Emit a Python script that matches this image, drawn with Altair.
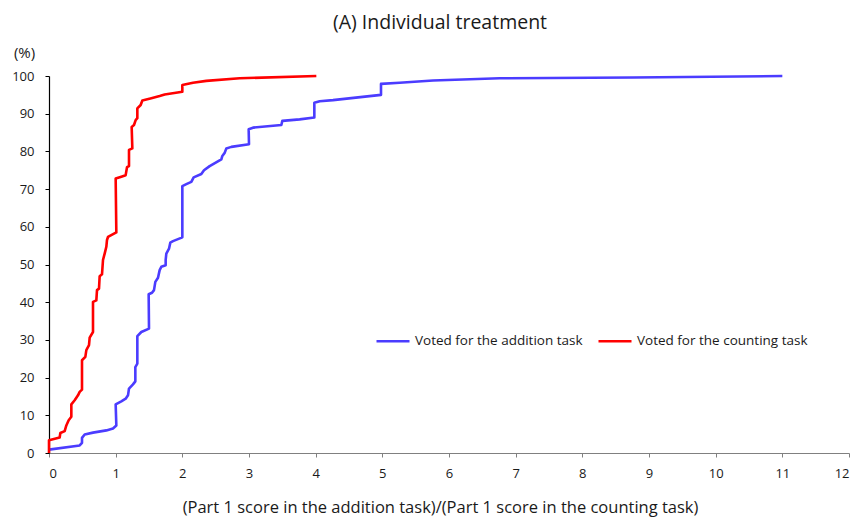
import altair as alt
import pandas as pd

# Cumulative distribution (%) of the score ratio
add_x = [0.0, 0.46, 0.495, 0.495, 0.535, 0.66, 0.86, 0.96, 1.01, 1.0, 1.085, 1.15, 1.185, 1.2, 1.26,
         1.295, 1.295, 1.325, 1.325, 1.385, 1.5, 1.495, 1.545, 1.575, 1.595, 1.635, 1.66, 1.685, 1.75,
         1.75, 1.76, 1.8, 1.82, 1.86, 2.0, 2.0, 2.06, 2.135, 2.17, 2.285, 2.325, 2.41, 2.585, 2.6, 2.635,
         2.66, 2.735, 3.0, 2.995, 3.06, 3.485, 3.5, 3.76, 3.98, 3.98, 4.06, 4.26, 4.98, 4.98, 5.26,
         5.76, 6.76, 8.76, 11.0]
add_y = [0.9, 2.0, 2.7, 4.0, 4.9, 5.4, 6.0, 6.5, 7.3, 12.9, 13.7, 14.4, 15.3, 17.1, 18.2,
         19.0, 22.8, 23.7, 31.0, 32.1, 33.0, 42.1, 42.5, 43.2, 45.4, 46.5, 48.5, 49.4, 49.8,
         51.2, 52.9, 54.2, 55.8, 56.2, 57.2, 70.8, 71.3, 71.9, 73.1, 74.0, 75.0, 76.1, 77.9, 78.8, 79.6,
         80.8, 81.2, 81.9, 85.9, 86.3, 87.0, 88.1, 88.5, 89.0, 92.9, 93.3, 93.6, 95.0, 97.9, 98.2,
         98.8, 99.4, 99.6, 100.0]

cnt_x = [0.0, 0.0, 0.16, 0.17, 0.235, 0.26, 0.295, 0.335, 0.335, 0.385, 0.435, 0.46, 0.495, 0.495,
         0.545, 0.56, 0.6, 0.61, 0.66, 0.66, 0.71, 0.72, 0.75, 0.76, 0.795, 0.81, 0.835, 0.86, 0.87,
         0.885, 1.01, 1.0, 1.085, 1.15, 1.17, 1.2, 1.2, 1.25, 1.24, 1.275, 1.3, 1.325, 1.325, 1.375,
         1.4, 1.535, 1.66, 1.735, 2.0, 2.0, 2.16, 2.36, 2.86, 4.01]
cnt_y = [0.0, 3.4, 4.1, 5.3, 5.8, 7.3, 8.7, 9.6, 12.9, 14.0, 15.3, 16.2, 16.8, 24.6,
         25.5, 27.3, 28.6, 30.6, 32.1, 40.1, 40.5, 43.2, 43.6, 46.9, 47.4, 51.2, 52.9, 54.7, 56.5,
         57.3, 58.5, 72.8, 73.3, 73.7, 75.8, 76.1, 80.4, 80.8, 86.5, 87.0, 88.3, 88.8, 91.4, 92.3,
         93.5, 94.1, 94.7, 95.1, 95.8, 97.6, 98.2, 98.7, 99.4, 100.0]

series = ["Voted for the addition task", "Voted for the counting task"]
colors = ["#4B3CFF", "#FF0000"]
x_ticks = list(range(0, 13))
y_ticks = list(range(0, 101, 10))

rows = []
for i, (x, y) in enumerate(zip(add_x, add_y)):
    rows.append({"ratio": x, "pct": y, "series": series[0], "idx": i})
for i, (x, y) in enumerate(zip(cnt_x, cnt_y)):
    rows.append({"ratio": x, "pct": y, "series": series[1], "idx": i})
df = pd.DataFrame(rows)

FONT = "Open Sans"
TXT = "#1a1a1a"

chart = alt.Chart(df).mark_line(strokeWidth=2.6, strokeJoin="round").encode(
    x=alt.X("ratio:Q",
            scale=alt.Scale(domain=[0, 12], nice=False, zero=False),
            axis=alt.Axis(values=x_ticks, format="d", grid=False,
                          title="(Part 1 score in the addition task)/(Part 1 score in the counting task)",
                          titleX=391, titleY=54, titleBaseline="middle", titleAlign="center",
                          titleFontSize=16.5, titleFontWeight="normal", titleColor=TXT,
                          labelFontSize=13, labelPadding=10, labelColor=TXT,
                          tickSize=4, tickColor="#808080", domainColor="#808080", domainWidth=1.2)),
    y=alt.Y("pct:Q",
            scale=alt.Scale(domain=[0, 100], nice=False),
            axis=alt.Axis(values=y_ticks, format="d", grid=False,
                          title="(%)", titleAngle=0, titleX=-25, titleY=-24,
                          titleAlign="center", titleBaseline="middle",
                          titleFontSize=15, titleFontWeight="normal", titleColor=TXT,
                          labelFontSize=13, labelPadding=11, labelColor=TXT,
                          tickSize=4, tickColor="#000", domainColor="#000", domainWidth=1.2)),
    color=alt.Color("series:N",
                    scale=alt.Scale(domain=series, range=colors),
                    legend=alt.Legend(title=None, orient="none", direction="horizontal",
                                      legendX=326, legendY=247, symbolType="stroke",
                                      symbolSize=1089, symbolStrokeWidth=2.6,
                                      labelFontSize=13.5, labelLimit=300, labelOffset=4,
                                      columnPadding=10, padding=0, labelColor=TXT)),
    order="idx:Q",
).properties(
    width=800,
    height=377,
    title=alt.TitleParams("(A) Individual treatment", anchor="middle", frame="group",
                          fontSize=19.5, fontWeight="normal", font=FONT, color=TXT,
                          offset=12, dx=-9),
    autosize=alt.AutoSizeParams(type="none"),
    padding={"left": 41, "top": 68, "right": 5, "bottom": 65},
).configure(font=FONT).configure_view(stroke=None)

chart.save("out.html", embed_options={"renderer": "svg", "actions": False})
